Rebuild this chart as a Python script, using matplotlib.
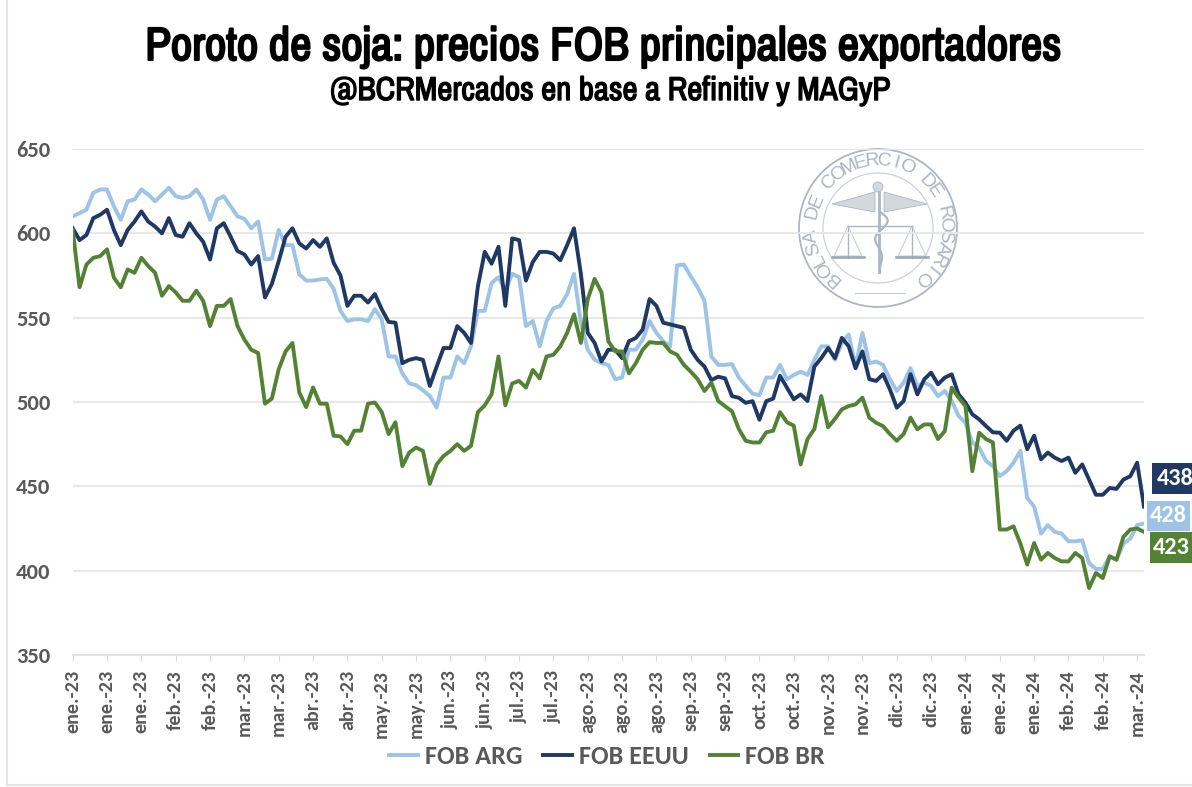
import numpy as np
import matplotlib
matplotlib.use('Agg')
import matplotlib.pyplot as plt
import matplotlib.patheffects as pe
from matplotlib import font_manager as fm
from matplotlib.patches import Circle, Rectangle, Polygon
from matplotlib.textpath import TextPath

# Precios FOB, 5 lecturas por cada marca del eje
fob_arg = [610, 612, 614, 624, 626, 626, 616, 608, 619, 620,
           626, 623, 619, 623, 627, 622, 621, 622, 626, 620,
           608, 620, 622, 616, 610, 608.6, 603, 607, 584.5, 585,
           602, 593, 593, 575.6, 572, 572, 572.7, 573, 567, 554,
           548, 549, 549, 548, 555, 549, 527, 527, 517, 511,
           510, 507, 503.5, 496.7, 514.5, 514.5, 527, 523, 533, 554,
           554, 570.5, 574, 566, 576, 574, 545, 548, 533, 548,
           555.6, 557, 564, 576, 547, 531, 525, 523, 522, 513.5,
           514.5, 531, 531, 537, 548, 541, 536, 533, 581, 581.5,
           574.5, 568, 560, 527, 522, 522, 522.5, 514.5, 509.6, 505,
           504, 514.5, 514.5, 522, 513.5, 516, 518, 516, 525, 533,
           533, 525, 535, 540, 521, 541, 523, 524, 522, 513.5,
           506.5, 511.5, 520, 509.5, 511.5, 509.5, 503.5, 506.5, 500.6, 491.7,
           487.7, 476, 473, 465, 462, 456, 459, 464, 471, 443,
           438, 422, 427, 423, 422, 417.4, 417.4, 418, 404.5, 401,
           401, 408.5, 406.5, 416, 419, 427, 428]
fob_eeuu = [603, 596, 599, 609, 611, 614, 602, 593, 602, 607,
            613, 607, 604, 600, 609, 599, 598, 606, 600, 595,
            584.5, 603, 606, 598, 589.5, 587.5, 581.5, 586.5, 562, 570,
            583.5, 598, 603, 594, 591, 596, 592, 597, 582.5, 575,
            557, 563, 563, 559, 564, 555, 547.5, 547, 523, 525,
            526, 525, 509.5, 521, 532, 532, 545, 541, 535, 568.5,
            589, 582, 592, 557, 597, 596, 572, 583, 589, 589,
            588, 584, 593, 603, 576, 541, 535, 524, 531, 531,
            526, 536, 538, 543, 561, 557, 547, 546, 545, 544,
            531, 525, 521, 513, 515, 514, 503.5, 502.5, 499.5, 500.5,
            489.5, 500.5, 502, 515.5, 508.5, 501.6, 504.5, 500.6, 521, 526,
            532, 526, 538, 533, 520, 530, 513.5, 512.5, 516.5, 507.5,
            496.6, 500.6, 516.5, 504.5, 513.5, 517.4, 510.5, 514.5, 516.4, 504.5,
            499.6, 492.7, 489.7, 485.7, 482, 481.8, 477, 483, 486, 472,
            480, 466, 470, 467, 465, 467, 458, 463, 454, 445,
            445, 449, 448.5, 454, 456, 464, 438]
fob_br = [602, 568, 581.5, 585.5, 586.5, 590.5, 573.7, 568, 578.6, 576.6,
          585.5, 580.6, 576.6, 563, 568.7, 565, 560, 560, 566, 560,
          545, 557, 557, 561, 545, 537, 531, 529, 499, 502,
          519.4, 530, 535, 505.6, 497, 508.6, 499, 499, 480, 479.6,
          475, 483, 483, 499, 499.7, 494, 481, 488, 462, 470,
          473, 471, 451.5, 463, 468, 471, 475, 471, 474, 494,
          498, 504.6, 527, 498, 511, 512.5, 508.6, 519, 514, 527,
          528, 533, 541, 552, 535, 561, 573, 565, 536, 530,
          530, 517, 523, 531, 535.5, 535, 535, 530, 528, 522,
          518, 513.5, 506.5, 511.5, 500.6, 497.5, 494.5, 484, 477, 476,
          476, 482, 483, 494, 488, 486, 463, 478, 484, 503.5,
          485, 490, 495.6, 497.6, 498.6, 502.6, 490.7, 487.7, 485.7, 481,
          477, 481, 490.7, 483.8, 486.7, 486.7, 478, 482.8, 508.5, 502.6,
          497.6, 459, 481.8, 478, 476, 424.4, 424.4, 426.3, 416, 403.6,
          416.4, 406.5, 410.5, 407.5, 405.5, 405.5, 410.5, 407.5, 389.7, 398.6,
          395.6, 408.5, 406.5, 420, 424.4, 425, 423]
tick_labels = ['ene.-23', 'ene.-23', 'ene.-23', 'feb.-23', 'feb.-23', 'mar.-23', 'mar.-23', 'abr.-23',
               'abr.-23', 'may.-23', 'may.-23', 'jun.-23', 'jun.-23', 'jul.-23', 'jul.-23', 'ago.-23',
               'ago.-23', 'ago.-23', 'sep.-23', 'sep.-23', 'oct.-23', 'oct.-23', 'nov.-23', 'nov.-23',
               'dic.-23', 'dic.-23', 'ene.-24', 'ene.-24', 'ene.-24', 'feb.-24', 'feb.-24', 'mar.-24']
y_ticks = [350, 400, 450, 500, 550, 600, 650]

ARG_COLOR = '#9DC3E6'
EEUU_COLOR = '#1F3864'
BR_COLOR = '#548235'
GREY = '#595959'
SEAL = '#AEB6C2'

W, H = 1192, 787


def pick_font(*names):
    have = {f.name for f in fm.fontManager.ttflist}
    for n in names:
        if n in have:
            return n
    return 'Liberation Sans'


def fit_size(text, family, px):
    # tamano en puntos para que el texto ocupe px de ancho a 100 dpi
    prop = fm.FontProperties(family=family, weight='bold')
    width = TextPath((0, 0), text, size=10, prop=prop).get_extents().width
    return 10 * px * 0.72 / width


TITLE_FONT = pick_font('Archivo Narrow', 'Pragati Narrow', 'PT Sans Narrow', 'Roboto Condensed')
BODY_FONT = pick_font('Carlito', 'Open Sans')

title = 'Poroto de soja: precios FOB principales exportadores'
subtitle = '@BCRMercados en base a Refinitiv y MAGyP'

fig = plt.figure(figsize=(W / 100, H / 100), dpi=100)

# Capa en pixeles para marco, sello y etiquetas
bg = fig.add_axes([0, 0, 1, 1], zorder=0)
bg.set_xlim(0, W)
bg.set_ylim(H, 0)
bg.axis('off')
bg.plot([7, 7], [0, 785], color='#E4E4E4', lw=1.5)
bg.plot([7, W], [785, 785], color='#E4E4E4', lw=1.5)

# Sello de la Bolsa
cx, cy = 878, 228
bg.add_patch(Circle((cx, cy), 79, fill=False, ec=SEAL, lw=1.3))
bg.add_patch(Circle((cx, cy), 55, fill=False, ec='#CDD2DA', lw=0.9))
seal_text = 'BOLSA DE COMERCIO DE ROSARIO'
angles = np.linspace(228, -48, len(seal_text))
for ch, a in zip(seal_text, angles):
    r = np.radians(a)
    bg.text(cx + 67 * np.cos(r), cy - 67 * np.sin(r), ch, rotation=a - 90,
            ha='center', va='center', fontsize=14, color=SEAL, family='Liberation Sans')
# alas, baston y balanzas
bg.add_patch(Polygon([(832, 204), (875, 192), (875, 212)], fc='#D3D7DE', ec=SEAL, lw=0.6))
bg.add_patch(Polygon([(927, 204), (884, 192), (884, 212)], fc='#D3D7DE', ec=SEAL, lw=0.6))
bg.add_patch(Circle((878, 187), 5, fc='#D3D7DE', ec=SEAL, lw=0.6))
bg.plot([879, 879], [192, 272], color=SEAL, lw=2)
wave_y = np.linspace(212, 272, 60)
bg.plot(879 + 9 * np.sin((wave_y - 212) / 6) * (272 - wave_y) / 60 + 1, wave_y, color=SEAL, lw=1.6)
for sx in (848, 912):
    bg.plot([sx, sx], [226, 258], color=SEAL, lw=1)
    bg.add_patch(Polygon([(sx - 14, 256), (sx, 226), (sx + 14, 256)], fill=False, ec='#C4CAD3', lw=0.7))
    bg.plot([sx - 16, sx + 16], [257, 257], color='#9AA3B2', lw=1.8)
bg.plot([848, 912], [226, 226], color=SEAL, lw=1)
bg.plot([855, 905], [293, 293], color='#C4CAD3', lw=0.8)

# Grafico principal
x0, x1, y_top, y_bot = 72.7, 1144, 149, 655
ax = fig.add_axes([x0 / W, 1 - y_bot / H, (x1 - x0) / W, (y_bot - y_top) / H], zorder=1)
ax.patch.set_alpha(0)
idx = np.arange(len(fob_arg))
ax.plot(idx, fob_arg, color=ARG_COLOR, lw=2.8, label='FOB ARG', solid_joinstyle='round')
ax.plot(idx, fob_eeuu, color=EEUU_COLOR, lw=2.8, label='FOB EEUU', solid_joinstyle='round')
ax.plot(idx, fob_br, color=BR_COLOR, lw=2.8, label='FOB BR', solid_joinstyle='round')
ax.set_xlim(0, len(fob_arg) - 1)
ax.set_ylim(350, 650)
ax.set_yticks(y_ticks)
ax.set_xticks(np.arange(len(tick_labels)) * 5)
ax.set_xticklabels(tick_labels, rotation=90, fontsize=fit_size('ene.-23', BODY_FONT, 62), fontweight='bold',
                   color=GREY, family=BODY_FONT, ha='center')
ax.set_yticklabels([str(v) for v in y_ticks], fontsize=fit_size('650', BODY_FONT, 33), fontweight='bold',
                   color=GREY, family=BODY_FONT)
ax.grid(axis='y', color='#E6E6E6', lw=1.3)
ax.set_axisbelow(True)
for s in ('top', 'right', 'left'):
    ax.spines[s].set_visible(False)
ax.spines['bottom'].set_color('#E0E0E0')
ax.spines['bottom'].set_linewidth(1.3)
ax.tick_params(axis='y', length=0, pad=16)
ax.tick_params(axis='x', length=4, color='#D9D9D9', pad=7)

# Titulos (la fuente angosta solo viene en regular: se engrosa con un trazo)
fig.text(603 / W, 1 - 47 / H, title, ha='center', va='center',
         fontsize=fit_size(title, TITLE_FONT, 911), fontweight='bold', family=TITLE_FONT, color='black',
         path_effects=[pe.withStroke(linewidth=1.5, foreground='black')])
fig.text(610 / W, 1 - 91 / H, subtitle, ha='center', va='center',
         fontsize=fit_size(subtitle, TITLE_FONT, 558), fontweight='bold', family=TITLE_FONT, color='black',
         path_effects=[pe.withStroke(linewidth=1.0, foreground='black')])

# Etiquetas del ultimo valor
top = fig.add_axes([0, 0, 1, 1], zorder=2)
top.set_xlim(0, W)
top.set_ylim(H, 0)
top.axis('off')
end_boxes = [(1152, 463, 40, 31, EEUU_COLOR, fob_eeuu[-1], 1175),
             (1147, 501, 43, 30, ARG_COLOR, fob_arg[-1], 1168),
             (1150, 532, 42, 31, BR_COLOR, fob_br[-1], 1171)]
for bx, by, bw, bh, col, val, tx in end_boxes:
    top.add_patch(Rectangle((bx, by), bw, bh, fc=col, ec='none'))
    top.text(tx, by + bh / 2, str(int(val)), color='white', ha='center', va='center',
             fontsize=fit_size('428', BODY_FONT, 36), fontweight='bold', family=BODY_FONT, clip_on=True)

handles, labels = ax.get_legend_handles_labels()
leg = fig.legend(handles, labels, loc='center', bbox_to_anchor=(607 / W, 1 - 757 / H), ncol=3, frameon=False,
                 handlelength=1.1, handletextpad=0.27, columnspacing=0.8,
                 prop={'family': BODY_FONT, 'weight': 'bold', 'size': fit_size('FOB ARG', BODY_FONT, 95)})
for t in leg.get_texts():
    t.set_color(GREY)

fig.savefig('out.png', dpi=100)
